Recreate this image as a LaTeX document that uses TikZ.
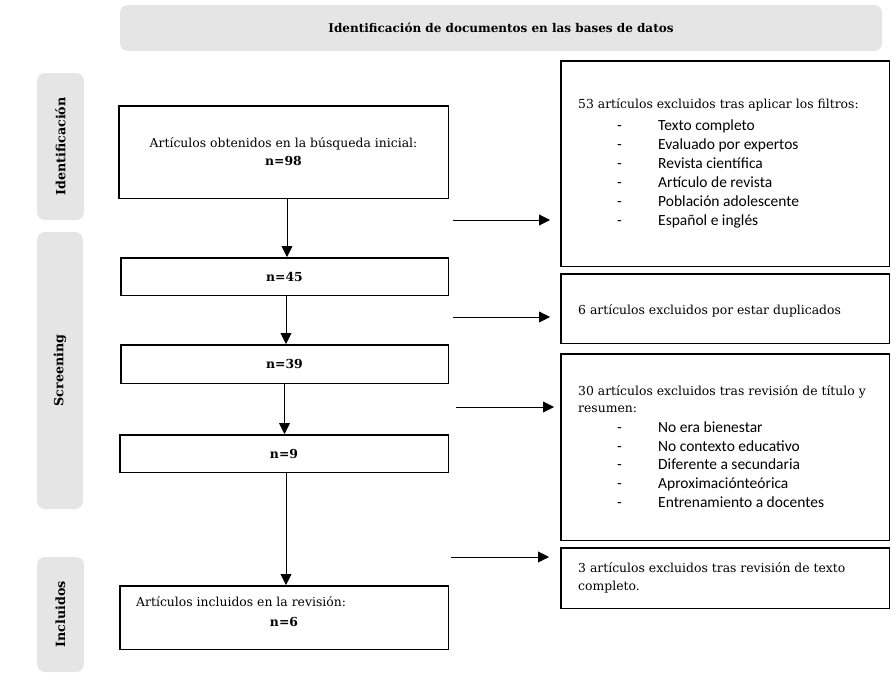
\documentclass[tikz,border=0pt]{standalone}
\usepackage{fontspec}
\setmainfont{DejaVu Serif}
\newfontfamily\itemfont{Carlito}
\usetikzlibrary{arrows.meta}
\definecolor{phasegray}{RGB}{229,229,229}
\begin{document}
\begin{tikzpicture}[x=1pt,y=-1pt,
  phase/.style={fill=phasegray, rounded corners=8pt, inner sep=0pt, font=\fontsize{12.7}{14}\selectfont\bfseries},
  box/.style={draw=black, line width=1.5pt, inner sep=0pt},
  arr/.style={-{Triangle[length=11pt,width=11pt]}, line width=0.9pt},
  body/.style={font=\fontsize{12.4}{18}\selectfont, inner sep=0pt},
  txtline/.style={body, anchor=west, text height=9pt, text depth=3pt},
  bul/.style={font=\itemfont\fontsize{15.5}{19}\selectfont, inner sep=0pt, anchor=west, text height=10pt, text depth=2pt},
  boldtxt/.style={font=\fontsize{12.4}{18}\selectfont\bfseries, inner sep=0pt},
]
\useasboundingbox (0,0) rectangle (892,675);

% banner and phases
\node[phase, font=\fontsize{12}{14}\selectfont\bfseries, minimum width=762pt, minimum height=46pt] (banner) at (501,28) {Identificación de documentos en las bases de datos};
\node[phase, rotate=90, minimum width=147pt, minimum height=47pt] (p1) at (60.5,146.5) {Identificación};
\node[phase, rotate=90, minimum width=277pt, minimum height=46pt] (p2) at (60,370.5) {Screening};
\node[phase, rotate=90, minimum width=115pt, minimum height=47pt] (p3) at (60.5,614.5) {Incluidos};

% left boxes
\node[box, body, align=center, minimum width=329.5pt, minimum height=92.5pt] (b1) at (283.5,152) {Artículos obtenidos en la búsqueda inicial:\\\textbf{n=98}};
\node[box, boldtxt, minimum width=327.5pt, minimum height=37.5pt] (b2) at (284.5,276.5) {n=45};
\node[box, boldtxt, minimum width=327.5pt, minimum height=38.5pt] (b3) at (284.5,364) {n=39};
\node[box, boldtxt, minimum width=328.5pt, minimum height=37.5pt] (b4) at (284,453.5) {n=9};
\node[box, minimum width=328.5pt, minimum height=63.5pt] (b5) at (284,617.5) {};
\node[txtline] (f1) at (136,603) {Artículos incluidos en la revisión:};
\node[boldtxt] (f2) at (284,622) {n=6};

\coordinate (ax1) at (287,0);
\coordinate (ax2) at (286,0);
\coordinate (ax3) at (284.5,0);
\coordinate (ax4) at (286,0);
\draw[arr] (b1.south -| ax1) -- (b2.north -| ax1);
\draw[arr] (b2.south -| ax2) -- (b3.north -| ax2);
\draw[arr] (b3.south -| ax3) -- (b4.north -| ax3);
\draw[arr] (b4.south -| ax4) -- (b5.north -| ax4);

% right boxes
\node[box, minimum width=328.5pt, minimum height=205.5pt] (A) at (725,163.5) {};
\node[box, minimum width=328.5pt, minimum height=69.5pt] (B) at (725,308.5) {};
\node[box, minimum width=328.5pt, minimum height=186.5pt] (C) at (725,447) {};
\node[box, minimum width=328.5pt, minimum height=60.5pt] (D) at (725,578) {};

\node[txtline] (A0) at (578,105) {53 artículos excluidos tras aplicar los filtros:};
\foreach \t [count=\i] in {Texto completo, Evaluado por expertos, Revista científica, Artículo de revista, Población adolescente, Español e inglés}{
  \node[bul] (Ad\i) at (617,107+19*\i) {-};
  \node[bul] (Ai\i) at (658,107+19*\i) {\t};
}
\node[txtline] (B0) at (578,311) {6 artículos excluidos por estar duplicados};
\node[txtline] (C0) at (578,392) {30 artículos excluidos tras revisión de título y};
\node[txtline] (C1) at (578,409.5) {resumen:};
\foreach \t [count=\i] in {No era bienestar, No contexto educativo, Diferente a secundaria, Aproximaciónteórica, Entrenamiento a docentes}{
  \node[bul] (Cd\i) at (617,409.5+18.75*\i) {-};
  \node[bul] (Ci\i) at (658,409.5+18.75*\i) {\t};
}
\node[txtline] (D0) at (578,569) {3 artículos excluidos tras revisión de texto};
\node[txtline] (D1) at (578,587) {completo.};

% side arrows
\coordinate (h1) at (453,220);
\coordinate (h2) at (453,317);
\coordinate (h3) at (456,407);
\coordinate (h4) at (451,557);
\draw[arr, shorten >=10pt] (h1) -- (h1 -| A.west);
\draw[arr, shorten >=10pt] (h2) -- (h2 -| B.west);
\draw[arr, shorten >=6pt] (h3) -- (h3 -| C.west);
\draw[arr, shorten >=11pt] (h4) -- (h4 -| D.west);
\end{tikzpicture}
\end{document}
